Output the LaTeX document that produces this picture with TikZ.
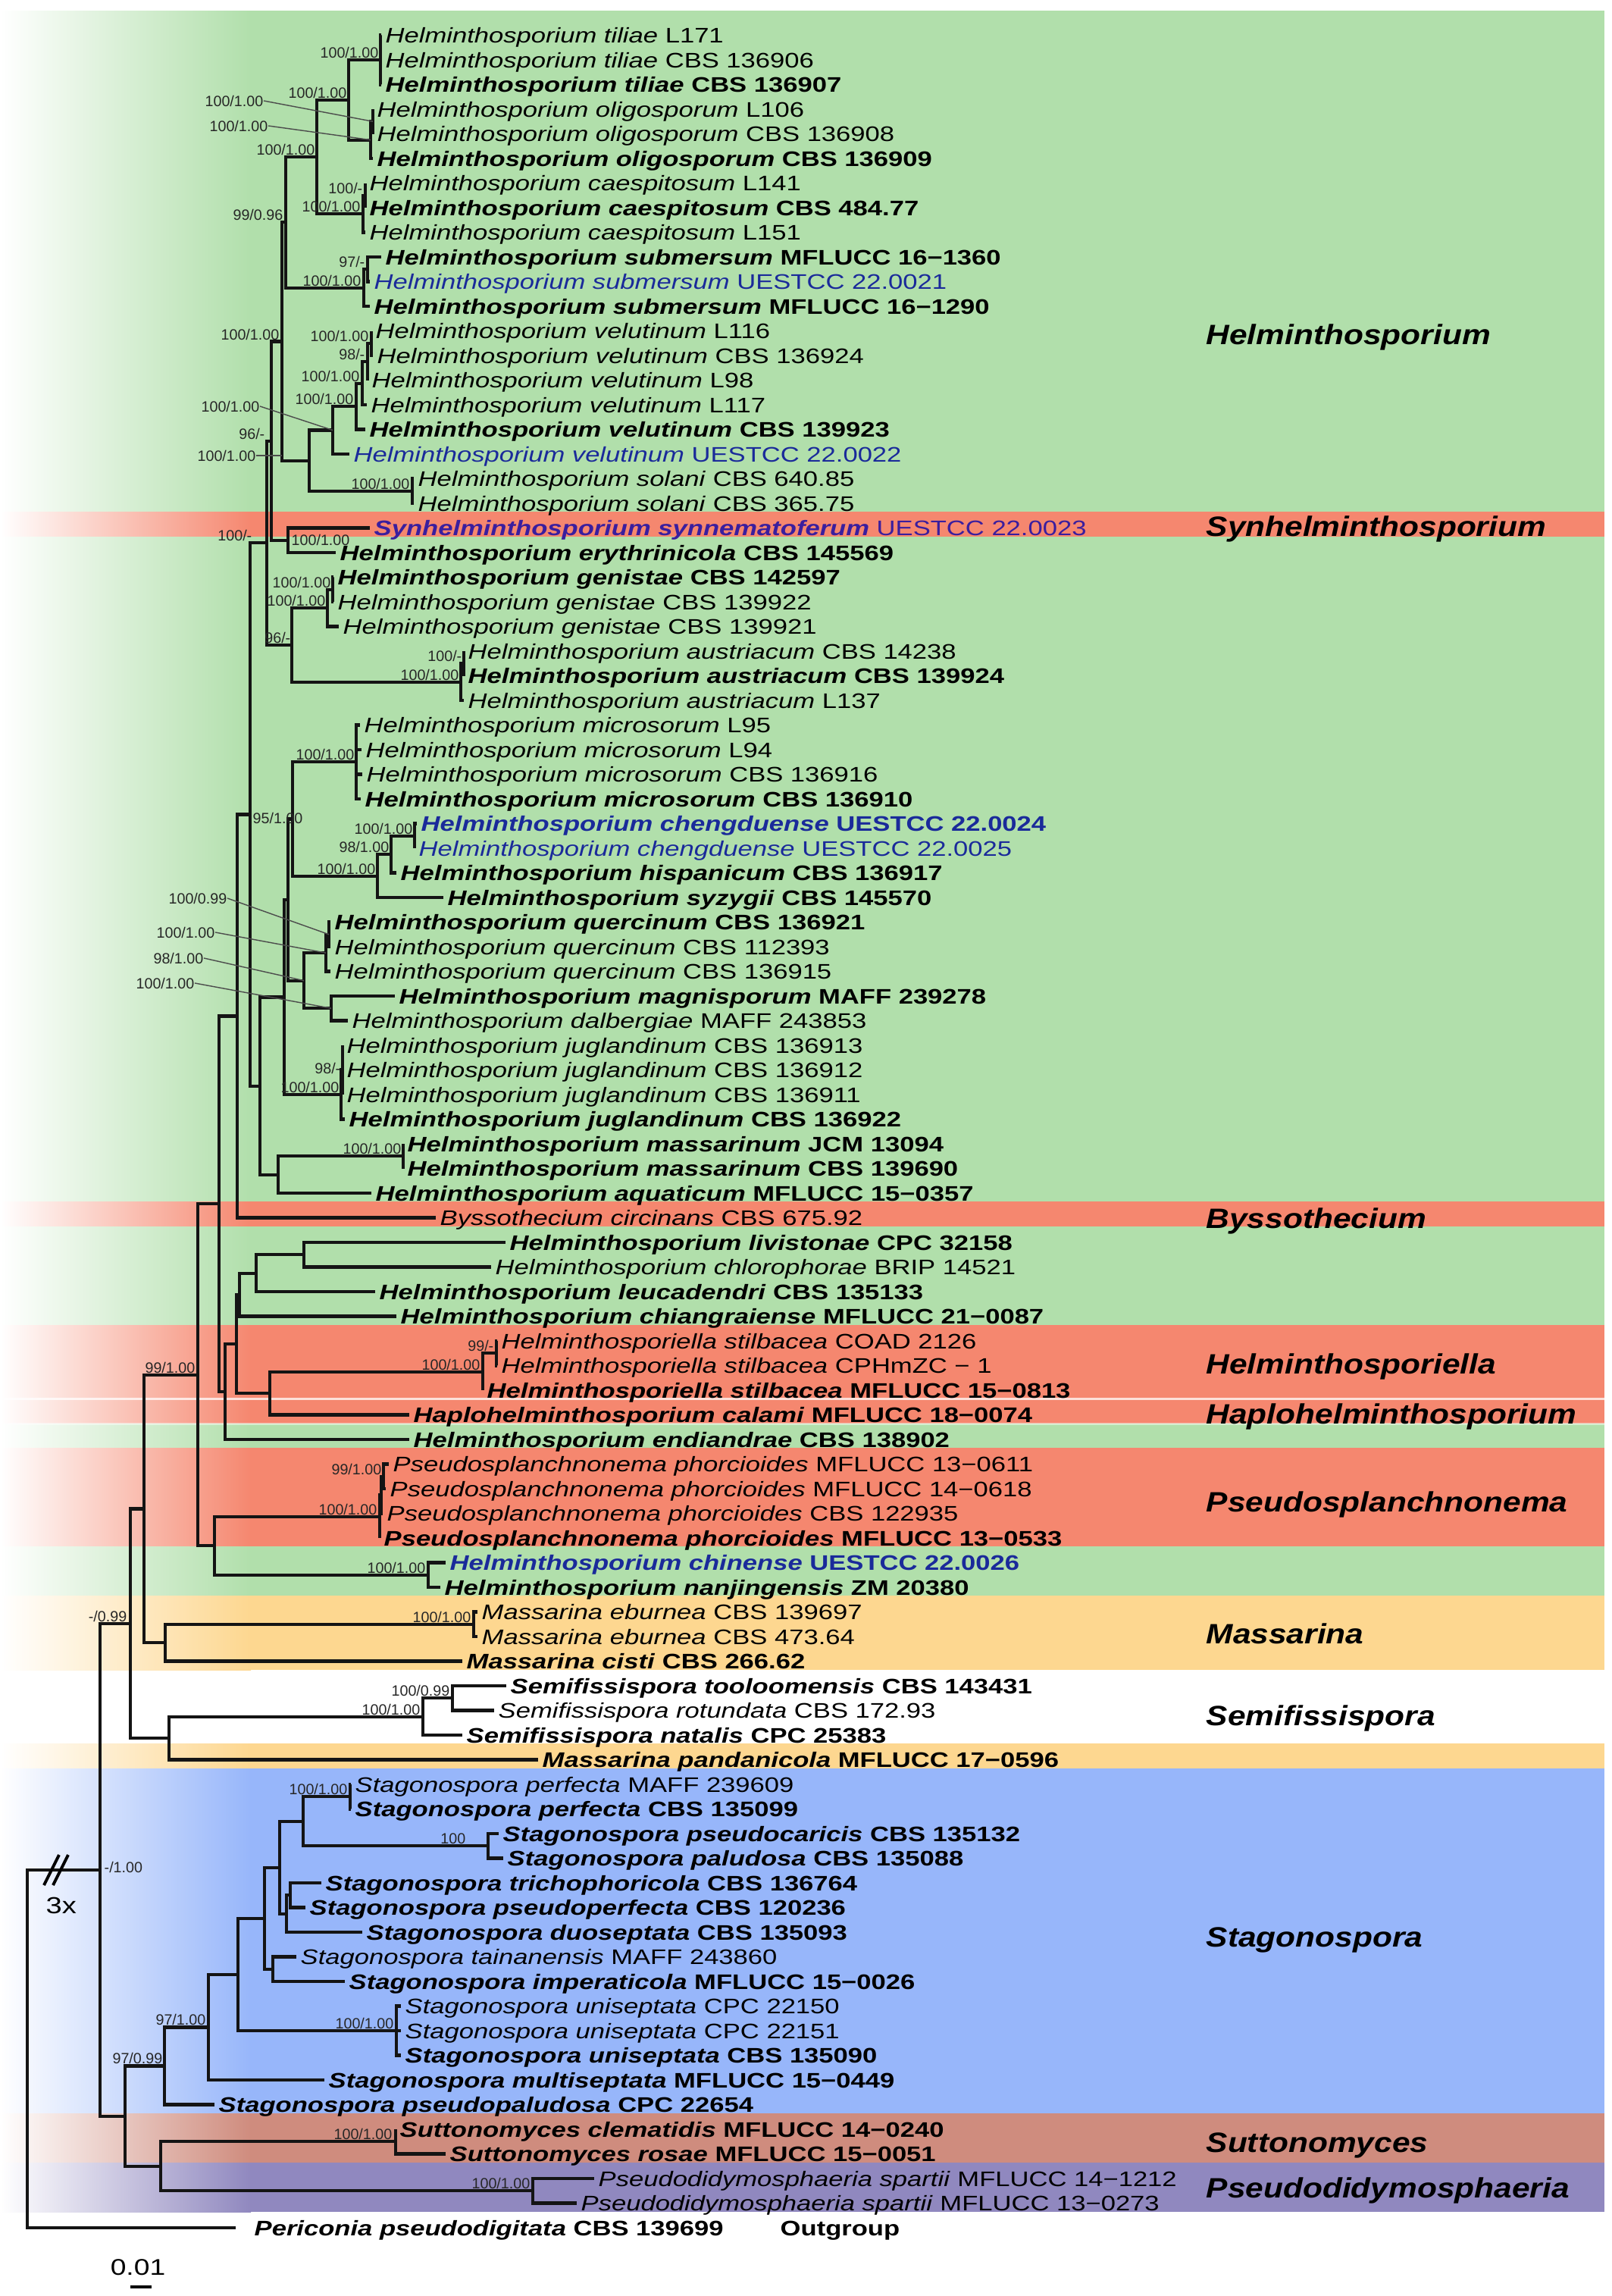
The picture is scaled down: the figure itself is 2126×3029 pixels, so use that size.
\documentclass[tikz,border=0pt]{standalone}
\usepackage{fontspec}
\setmainfont{Liberation Sans}
\newfontfamily\tipf[FakeStretch=1.245]{Liberation Sans}
\newfontfamily\cladef[FakeStretch=1.15]{Liberation Sans}
\definecolor{gband}{HTML}{B1DFAB}
\definecolor{rband}{HTML}{F5876F}
\definecolor{oband}{HTML}{FDD790}
\definecolor{bband}{HTML}{97B6FA}
\definecolor{sband}{HTML}{CF8C7E}
\definecolor{pband}{HTML}{9088BF}
\definecolor{blueT}{HTML}{1A2A9A}
\definecolor{purpT}{HTML}{3A1E9E}
\tikzset{
 br/.style={line width=1.2pt, draw=black!92, line join=miter},
 lead/.style={line width=0.4pt, draw=black!70},
 tl/.style={anchor=base west, inner sep=0pt, font=\tipf\fontsize{7.9}{9}\selectfont},
 sup/.style={anchor=base east, inner sep=0pt, font=\fontsize{5.6}{6}\selectfont, text=black!85},
 supw/.style={sup, anchor=base west},
 clade/.style={anchor=base west, inner sep=0pt, font=\cladef\fontsize{10.5}{12}\selectfont\bfseries\itshape},
}
\newcommand{\Ti}[2]{\textit{#1} #2}
\newcommand{\Tb}[2]{\textbf{\textit{#1} #2}}
\newcommand{\tipx}[6]{\coordinate (#1) at (#3,#4);
  \draw[br] (#2) |- (#1);
  \node[tl,#5] (#1l) at ({#3+5},{#4+10}) {#6};}
\newcommand{\edg}[2]{\draw[br] (#1) |- (#2);}
\newcommand{\band}[3]{\shade[left color=white, right color=#3] (0,#1) rectangle (331,#2);
  \fill[#3] (330,#1) rectangle (2117,#2);}
\begin{document}
\begin{tikzpicture}[x=0.01cm,y=-0.01cm]
\useasboundingbox (0,0) rectangle (2126,3029);
% ---------- background bands ----------
\band{14}{675}{gband}
\band{675}{708}{rband}
\band{708}{1585}{gband}
\band{1585}{1618}{rband}
\band{1618}{1748}{gband}
\band{1748}{1845}{rband}
\band{1845}{1878}{rband}
\band{1878}{1910}{gband}
\band{1910}{2040}{rband}
\band{2040}{2105}{gband}
\band{2105}{2203}{oband}
\band{2300}{2333}{oband}
\band{2333}{2788}{bband}
\band{2788}{2853}{sband}
\band{2853}{2918}{pband}
\fill[white,opacity=0.75] (0,1843.5) rectangle (2117,1847);
\fill[white,opacity=0.45] (0,1876.5) rectangle (2117,1879.5);
% ---------- internal nodes ----------
\coordinate (T1) at (502,79);
\coordinate (Oin) at (492,160.25);
\coordinate (Oout) at (489,184.6);
\coordinate (n460) at (460,131.8);
\coordinate (Cin) at (482,257.75);
\coordinate (Cout) at (479,282.1);
\coordinate (n418) at (418,207);
\coordinate (Sin) at (485,355.25);
\coordinate (Sout) at (480,379.6);
\coordinate (n377) at (377,293.3);
\coordinate (V1) at (490,452.75);
\coordinate (V2) at (485,477.1);
\coordinate (V3) at (478,505.6);
\coordinate (V4) at (470,536);
\coordinate (V5) at (439,567.5);
\coordinate (SOL) at (544,647.75);
\coordinate (n408) at (408,607.6);
\coordinate (n372) at (372,450.5);
\coordinate (SYN) at (380,712.75);
\coordinate (n358) at (358,581.6);
\coordinate (Gin) at (439,777.75);
\coordinate (Gout) at (432,802.1);
\coordinate (Ain) at (612,875.25);
\coordinate (Aout) at (608,899.6);
\coordinate (n385) at (385,850.9);
\coordinate (n352) at (352,716.2);
\coordinate (M) at (470,1005.25);
\coordinate (CH) at (547,1102.75);
\coordinate (n516) at (516,1127.1);
\coordinate (n498) at (498,1155.6);
\coordinate (n386) at (386,1080.4);
\coordinate (Qin) at (434,1232.75);
\coordinate (Qout) at (430,1257.1);
\coordinate (MD) at (437,1330.25);
\coordinate (n401) at (401,1293.7);
\coordinate (nX) at (380,1187);
\coordinate (Jin) at (452,1411.5);
\coordinate (Jout) at (450,1444);
\coordinate (n375) at (375,1315.5);
\coordinate (MS) at (532,1525.25);
\coordinate (n367) at (367,1549.6);
\coordinate (n343) at (343,1432.6);
\coordinate (n330) at (330,1074.4);
\coordinate (n313) at (313,1340.5);
\coordinate (LC) at (401,1655.25);
\coordinate (n338) at (338,1679.6);
\coordinate (n316) at (316,1708.1);
\coordinate (HSin) at (655,1785.25);
\coordinate (HSout) at (637,1809.6);
\coordinate (n356) at (356,1838.1);
\coordinate (n312) at (312,1773.05);
\coordinate (n297) at (297,1836);
\coordinate (n289) at (289,1588.2);
\coordinate (Pin) at (506,1947.75);
\coordinate (Pmid) at (503,1972.1);
\coordinate (Pout) at (501,2000.6);
\coordinate (CHN) at (565,2077.75);
\coordinate (n283) at (283,2039.2);
\coordinate (n261) at (261,1813.7);
\coordinate (E) at (625,2142.75);
\coordinate (MC) at (218,2167.1);
\coordinate (n190) at (190,1990.4);
\coordinate (SFin) at (597,2240.25);
\coordinate (SFout) at (558,2264.6);
\coordinate (SP2) at (223,2293.1);
\coordinate (n172) at (172,2141.7);
\coordinate (PF) at (462,2370.25);
\coordinate (PC) at (644,2435.25);
\coordinate (Stop) at (400,2402.75);
\coordinate (TP) at (383,2500.25);
\coordinate (S3) at (378,2524.6);
\coordinate (S2) at (369,2463.7);
\coordinate (TI) at (360,2597.75);
\coordinate (S4) at (349,2530.7);
\coordinate (U) at (523,2679);
\coordinate (S5) at (314,2604.9);
\coordinate (S6) at (275,2674.4);
\coordinate (S7) at (217,2725.5);
\coordinate (SUT) at (522,2825.25);
\coordinate (PSD) at (703,2890.25);
\coordinate (SP) at (212,2857.75);
\coordinate (N165) at (165,2791.6);
\coordinate (N132) at (132,2466.7);
\coordinate (ROOT) at (36,2702.8);
% ---------- internal edges ----------
\edg{ROOT}{N132}
\edg{N132}{n172} \edg{N132}{N165}
\edg{n172}{n190} \edg{n172}{SP2}
\edg{n190}{n261} \edg{n190}{MC}
\edg{n261}{n289} \edg{n261}{n283}
\edg{n289}{n313} \edg{n289}{n297}
\edg{n313}{n330}
\edg{n330}{n352} \edg{n330}{n343}
\edg{n352}{n358} \edg{n352}{n385}
\edg{n358}{n372} \edg{n358}{SYN}
\edg{n372}{n377} \edg{n372}{n408}
\edg{n377}{n418} \edg{n377}{Sout}
\edg{n418}{n460} \edg{n418}{Cout}
\edg{n460}{T1} \edg{n460}{Oout}
\edg{Oout}{Oin} \edg{Cout}{Cin} \edg{Sout}{Sin}
\edg{n408}{V5} \edg{n408}{SOL}
\edg{V5}{V4} \edg{V4}{V3} \edg{V3}{V2} \edg{V2}{V1}
\edg{n385}{Gout} \edg{n385}{Aout}
\edg{Gout}{Gin} \edg{Aout}{Ain}
\edg{n343}{n375} \edg{n343}{n367}
\edg{n375}{nX} \edg{n375}{Jout}
\edg{nX}{n386} \edg{nX}{n401}
\edg{n386}{M} \edg{n386}{n498}
\edg{n498}{n516} \edg{n516}{CH}
\edg{n401}{Qout} \edg{n401}{MD}
\edg{Qout}{Qin} \edg{Jout}{Jin}
\edg{n367}{MS}
\edg{n297}{n312}
\edg{n312}{n316} \edg{n312}{n356}
\edg{n316}{n338} \edg{n338}{LC}
\edg{n356}{HSout} \edg{HSout}{HSin}
\edg{n283}{Pout} \edg{n283}{CHN}
\edg{Pout}{Pmid} \edg{Pmid}{Pin}
\edg{MC}{E}
\edg{SP2}{SFout} \edg{SFout}{SFin}
\edg{N165}{S7} \edg{N165}{SP}
\edg{S7}{S6} \edg{S6}{S5}
\edg{S5}{S4} \edg{S5}{U}
\edg{S4}{S2} \edg{S4}{TI}
\edg{S2}{Stop} \edg{S2}{S3}
\edg{Stop}{PF} \edg{Stop}{PC}
\edg{S3}{TP}
\edg{SP}{SUT} \edg{SP}{PSD}
% ---------- tips ----------
\tipx{t1}{T1}{503}{46.5}{}{\Ti{Helminthosporium tiliae}{L171}}
\tipx{t2}{T1}{503}{79}{}{\Ti{Helminthosporium tiliae}{CBS 136906}}
\tipx{t3}{T1}{503}{111.5}{}{\Tb{Helminthosporium tiliae}{CBS 136907}}
\tipx{t4}{Oin}{492}{144}{}{\Ti{Helminthosporium oligosporum}{L106}}
\tipx{t5}{Oin}{492}{176.5}{}{\Ti{Helminthosporium oligosporum}{CBS 136908}}
\tipx{t6}{Oout}{492}{209}{}{\Tb{Helminthosporium oligosporum}{CBS 136909}}
\tipx{t7}{Cin}{482}{241.5}{}{\Ti{Helminthosporium caespitosum}{L141}}
\tipx{t8}{Cin}{482}{274}{}{\Tb{Helminthosporium caespitosum}{CBS 484.77}}
\tipx{t9}{Cout}{482}{306.5}{}{\Ti{Helminthosporium caespitosum}{L151}}
\tipx{t10}{Sin}{503}{339}{}{\Tb{Helminthosporium submersum}{MFLUCC 16−1360}}
\tipx{t11}{Sin}{488}{371.5}{text=blueT}{\Ti{Helminthosporium submersum}{UESTCC 22.0021}}
\tipx{t12}{Sout}{488}{404}{}{\Tb{Helminthosporium submersum}{MFLUCC 16−1290}}
\tipx{t13}{V1}{490}{436.5}{}{\Ti{Helminthosporium velutinum}{L116}}
\tipx{t14}{V1}{492}{469}{}{\Ti{Helminthosporium velutinum}{CBS 136924}}
\tipx{t15}{V2}{485}{501.5}{}{\Ti{Helminthosporium velutinum}{L98}}
\tipx{t16}{V3}{484}{534}{}{\Ti{Helminthosporium velutinum}{L117}}
\tipx{t17}{V4}{482}{566.5}{}{\Tb{Helminthosporium velutinum}{CBS 139923}}
\tipx{t18}{V5}{461}{599}{text=blueT}{\Ti{Helminthosporium velutinum}{UESTCC 22.0022}}
\tipx{t19}{SOL}{546}{631.5}{}{\Ti{Helminthosporium solani}{CBS 640.85}}
\tipx{t20}{SOL}{546}{664}{}{\Ti{Helminthosporium solani}{CBS 365.75}}
\tipx{t21}{SYN}{488}{696.5}{text=purpT}{\textbf{\textit{Synhelminthosporium synnematoferum}} UESTCC 22.0023}
\tipx{t22}{SYN}{443}{729}{}{\Tb{Helminthosporium erythrinicola}{CBS 145569}}
\tipx{t23}{Gin}{440}{761.5}{}{\Tb{Helminthosporium genistae}{CBS 142597}}
\tipx{t24}{Gin}{440}{794}{}{\Ti{Helminthosporium genistae}{CBS 139922}}
\tipx{t25}{Gout}{447}{826.5}{}{\Ti{Helminthosporium genistae}{CBS 139921}}
\tipx{t26}{Ain}{612}{859}{}{\Ti{Helminthosporium austriacum}{CBS 14238}}
\tipx{t27}{Ain}{612}{891.5}{}{\Tb{Helminthosporium austriacum}{CBS 139924}}
\tipx{t28}{Aout}{612}{924}{}{\Ti{Helminthosporium austriacum}{L137}}
\tipx{t29}{M}{475}{956.5}{}{\Ti{Helminthosporium microsorum}{L95}}
\tipx{t30}{M}{477}{989}{}{\Ti{Helminthosporium microsorum}{L94}}
\tipx{t31}{M}{478}{1021.5}{}{\Ti{Helminthosporium microsorum}{CBS 136916}}
\tipx{t32}{M}{476}{1054}{}{\Tb{Helminthosporium microsorum}{CBS 136910}}
\tipx{t33}{CH}{550}{1086.5}{text=blueT}{\Tb{Helminthosporium chengduense}{UESTCC 22.0024}}
\tipx{t34}{CH}{547}{1119}{text=blueT}{\Ti{Helminthosporium chengduense}{UESTCC 22.0025}}
\tipx{t35}{n516}{523}{1151.5}{}{\Tb{Helminthosporium hispanicum}{CBS 136917}}
\tipx{t36}{n498}{585}{1184}{}{\Tb{Helminthosporium syzygii}{CBS 145570}}
\tipx{t37}{Qin}{436}{1216.5}{}{\Tb{Helminthosporium quercinum}{CBS 136921}}
\tipx{t38}{Qin}{436}{1249}{}{\Ti{Helminthosporium quercinum}{CBS 112393}}
\tipx{t39}{Qout}{436}{1281.5}{}{\Ti{Helminthosporium quercinum}{CBS 136915}}
\tipx{t40}{MD}{521}{1314}{}{\Tb{Helminthosporium magnisporum}{MAFF 239278}}
\tipx{t41}{MD}{459}{1346.5}{}{\Ti{Helminthosporium dalbergiae}{MAFF 243853}}
\tipx{t42}{Jin}{452}{1379}{}{\Ti{Helminthosporium juglandinum}{CBS 136913}}
\tipx{t43}{Jin}{452}{1411.5}{}{\Ti{Helminthosporium juglandinum}{CBS 136912}}
\tipx{t44}{Jin}{452}{1444}{}{\Ti{Helminthosporium juglandinum}{CBS 136911}}
\tipx{t45}{Jout}{455}{1476.5}{}{\Tb{Helminthosporium juglandinum}{CBS 136922}}
\tipx{t46}{MS}{532}{1509}{}{\Tb{Helminthosporium massarinum}{JCM 13094}}
\tipx{t47}{MS}{532}{1541.5}{}{\Tb{Helminthosporium massarinum}{CBS 139690}}
\tipx{t48}{n367}{490}{1574}{}{\Tb{Helminthosporium aquaticum}{MFLUCC 15−0357}}
\tipx{t49}{n313}{575}{1606.5}{}{\Ti{Byssothecium circinans}{CBS 675.92}}
\tipx{t50}{LC}{667}{1639}{}{\Tb{Helminthosporium livistonae}{CPC 32158}}
\tipx{t51}{LC}{648}{1671.5}{}{\Ti{Helminthosporium chlorophorae}{BRIP 14521}}
\tipx{t52}{n338}{495}{1704}{}{\Tb{Helminthosporium leucadendri}{CBS 135133}}
\tipx{t53}{n316}{523}{1736.5}{}{\Tb{Helminthosporium chiangraiense}{MFLUCC 21−0087}}
\tipx{t54}{HSin}{656}{1769}{}{\Ti{Helminthosporiella stilbacea}{COAD 2126}}
\tipx{t55}{HSin}{656}{1801.5}{}{\Ti{Helminthosporiella stilbacea}{CPHmZC − 1}}
\tipx{t56}{HSout}{637}{1834}{}{\Tb{Helminthosporiella stilbacea}{MFLUCC 15−0813}}
\tipx{t57}{n356}{540}{1866.5}{}{\Tb{Haplohelminthosporium calami}{MFLUCC 18−0074}}
\tipx{t58}{n297}{540}{1899}{}{\Tb{Helminthosporium endiandrae}{CBS 138902}}
\tipx{t59}{Pin}{513}{1931.5}{}{\Ti{Pseudosplanchnonema phorcioides}{MFLUCC 13−0611}}
\tipx{t60}{Pin}{509}{1964}{}{\Ti{Pseudosplanchnonema phorcioides}{MFLUCC 14−0618}}
\tipx{t61}{Pmid}{505}{1996.5}{}{\Ti{Pseudosplanchnonema phorcioides}{CBS 122935}}
\tipx{t62}{Pout}{501}{2029}{}{\Tb{Pseudosplanchnonema phorcioides}{MFLUCC 13−0533}}
\tipx{t63}{CHN}{588}{2061.5}{text=blueT}{\Tb{Helminthosporium chinense}{UESTCC 22.0026}}
\tipx{t64}{CHN}{581}{2094}{}{\Tb{Helminthosporium nanjingensis}{ZM 20380}}
\tipx{t65}{E}{630}{2126.5}{}{\Ti{Massarina eburnea}{CBS 139697}}
\tipx{t66}{E}{630}{2159}{}{\Ti{Massarina eburnea}{CBS 473.64}}
\tipx{t67}{MC}{610}{2191.5}{}{\Tb{Massarina cisti}{CBS 266.62}}
\tipx{t68}{SFin}{668}{2224}{}{\Tb{Semifissispora tooloomensis}{CBS 143431}}
\tipx{t69}{SFin}{652}{2256.5}{}{\Ti{Semifissispora rotundata}{CBS 172.93}}
\tipx{t70}{SFout}{610}{2289}{}{\Tb{Semifissispora natalis}{CPC 25383}}
\tipx{t71}{SP2}{710}{2321.5}{}{\Tb{Massarina pandanicola}{MFLUCC 17−0596}}
\tipx{t72}{PF}{463}{2354}{}{\Ti{Stagonospora perfecta}{MAFF 239609}}
\tipx{t73}{PF}{463}{2386.5}{}{\Tb{Stagonospora perfecta}{CBS 135099}}
\tipx{t74}{PC}{658}{2419}{}{\Tb{Stagonospora pseudocaricis}{CBS 135132}}
\tipx{t75}{PC}{664}{2451.5}{}{\Tb{Stagonospora paludosa}{CBS 135088}}
\tipx{t76}{TP}{424}{2484}{}{\Tb{Stagonospora trichophoricola}{CBS 136764}}
\tipx{t77}{TP}{403}{2516.5}{}{\Tb{Stagonospora pseudoperfecta}{CBS 120236}}
\tipx{t78}{S3}{478}{2549}{}{\Tb{Stagonospora duoseptata}{CBS 135093}}
\tipx{t79}{TI}{391}{2581.5}{}{\Ti{Stagonospora tainanensis}{MAFF 243860}}
\tipx{t80}{TI}{455}{2614}{}{\Tb{Stagonospora imperaticola}{MFLUCC 15−0026}}
\tipx{t81}{U}{529}{2646.5}{}{\Ti{Stagonospora uniseptata}{CPC 22150}}
\tipx{t82}{U}{529}{2679}{}{\Ti{Stagonospora uniseptata}{CPC 22151}}
\tipx{t83}{U}{529}{2711.5}{}{\Tb{Stagonospora uniseptata}{CBS 135090}}
\tipx{t84}{S6}{428}{2744}{}{\Tb{Stagonospora multiseptata}{MFLUCC 15−0449}}
\tipx{t85}{S7}{283}{2776.5}{}{\Tb{Stagonospora pseudopaludosa}{CPC 22654}}
\tipx{t86}{SUT}{522}{2809}{}{\Tb{Suttonomyces clematidis}{MFLUCC 14−0240}}
\tipx{t87}{SUT}{588}{2841.5}{}{\Tb{Suttonomyces rosae}{MFLUCC 15−0051}}
\tipx{t88}{PSD}{784}{2874}{}{\Ti{Pseudodidymosphaeria spartii}{MFLUCC 14−1212}}
\tipx{t89}{PSD}{761}{2906.5}{}{\Ti{Pseudodidymosphaeria spartii}{MFLUCC 13−0273}}
\coordinate (t90) at (311,2939);
\draw[br] (ROOT) |- (t90);
\node[tl] (t90l) at (335,2949) {\Tb{Periconia pseudodigitata}{CBS 139699}};
\node[tl] (outg) at (1029,2949) {\textbf{Outgroup}};
% ---------- support values ----------
\node[sup] (sT1) at (500,76) {100/1.00};
\node[sup] (s460) at (458,129) {100/1.00};
\node[sup] (s418) at (416,204) {100/1.00};
\node[sup] (sCin) at (479,255) {100/-};
\node[sup] (sCout) at (476,279) {100/1.00};
\node[sup] (s377) at (374,290) {99/0.96};
\node[sup] (sSin) at (482,352) {97/-};
\node[sup] (sSout) at (477,377) {100/1.00};
\node[sup] (s372) at (369,448) {100/1.00};
\node[sup] (sV1) at (487,450) {100/1.00};
\node[sup] (sV2) at (482,474) {98/-};
\node[sup] (sV3) at (475,503) {100/1.00};
\node[sup] (sV4) at (467,533) {100/1.00};
\node[sup] (sSOL) at (541,645) {100/1.00};
\node[sup] (s358) at (350,579) {96/-};
\node[sup] (s352) at (333,713) {100/-};
\node[supw] (sSYN) at (384,719) {100/1.00};
\node[sup] (sGin) at (437,775) {100/1.00};
\node[sup] (sGout) at (430,799) {100/1.00};
\node[sup] (s385) at (384,848) {96/-};
\node[sup] (sAin) at (610,872) {100/-};
\node[sup] (sAout) at (606,897) {100/1.00};
\node[sup] (sM) at (468,1002) {100/1.00};
\node[supw] (s386) at (333,1086) {95/1.00};
\node[sup] (sCH) at (545,1100) {100/1.00};
\node[sup] (s516) at (514,1124) {98/1.00};
\node[sup] (s498) at (496,1153) {100/1.00};
\node[sup] (sJin) at (450,1416) {98/-};
\node[sup] (sJout) at (448,1441) {100/1.00};
\node[sup] (sMS) at (530,1522) {100/1.00};
\node[sup] (sHSin) at (652,1782) {99/-};
\node[sup] (sHSout) at (634,1807) {100/1.00};
\node[sup] (s261) at (258,1811) {99/1.00};
\node[sup] (sPin) at (504,1945) {99/1.00};
\node[sup] (sPout) at (498,1998) {100/1.00};
\node[sup] (sCHN) at (562,2075) {100/1.00};
\node[sup] (sE) at (622,2140) {100/1.00};
\node[sup] (s172) at (168,2139) {-/0.99};
\node[sup] (sSFin) at (594,2237) {100/0.99};
\node[sup] (sSFout) at (555,2262) {100/1.00};
\node[sup] (sPF) at (459,2367) {100/1.00};
\node[sup] (sPC) at (615,2432) {100};
\node[sup] (sU) at (520,2676) {100/1.00};
\node[sup] (sS6) at (272,2671) {97/1.00};
\node[sup] (sS7) at (215,2722) {97/0.99};
\node[sup] (sSUT) at (518,2822) {100/1.00};
\node[sup] (sPSD) at (700,2887) {100/1.00};
\node[supw] (sN132) at (137,2470) {-/1.00};
% leader-line labels
\node[sup] (L1) at (348,140) {100/1.00};
\node[sup] (L2) at (354,173) {100/1.00};
\node[sup] (L3) at (343,543) {100/1.00};
\node[sup] (L4) at (338,608) {100/1.00};
\node[sup] (L5) at (300,1192) {100/0.99};
\node[sup] (L6) at (284,1237) {100/1.00};
\node[sup] (L7) at (269,1271) {98/1.00};
\node[sup] (L8) at (257,1304) {100/1.00};
\draw[lead] (L1.east) -- (Oin);
\draw[lead] (L2.east) -- (Oout);
\draw[lead] (L3.east) -- (V5);
\draw[lead] (L4.east) -- (n372 |- L4.east);
\draw[lead] (L5.east) -- (Qin);
\draw[lead] (L6.east) -- (Qout);
\draw[lead] (L7.east) -- (n401);
\draw[lead] (L8.east) -- (MD);
% ---------- break marks, scale ----------
\coordinate (bk1a) at (58,2487); \coordinate (bk1b) at (78,2447);
\coordinate (bk2a) at (70,2487); \coordinate (bk2b) at (90,2447);
\draw[line width=1.1pt] (bk1a) -- (bk1b);
\draw[line width=1.1pt] (bk2a) -- (bk2b);
\node[tl, font=\tipf\fontsize{8.7}{9}\selectfont] (three) at (60,2524) {3x};
\node[anchor=base, inner sep=0pt, font=\tipf\fontsize{8.5}{9}\selectfont] (sclab) at (182,3001) {0.01};
\coordinate (sb1) at (172,3017); \coordinate (sb2) at (200,3017);
\draw[line width=1.2pt] (sb1) -- (sb2);
% ---------- clade names ----------
\node[clade] (c1) at (1591,454) {Helminthosporium};
\node[clade] (c2) at (1591,707) {Synhelminthosporium};
\node[clade] (c3) at (1591,1620) {Byssothecium};
\node[clade] (c4) at (1591,1812) {Helminthosporiella};
\node[clade] (c5) at (1591,1878) {Haplohelminthosporium};
\node[clade] (c6) at (1591,1994) {Pseudosplanchnonema};
\node[clade] (c7) at (1591,2168) {Massarina};
\node[clade] (c8) at (1591,2276) {Semifissispora};
\node[clade] (c9) at (1591,2568) {Stagonospora};
\node[clade] (c10) at (1591,2839) {Suttonomyces};
\node[clade] (c11) at (1591,2899) {Pseudodidymosphaeria};
\end{tikzpicture}
\end{document}
